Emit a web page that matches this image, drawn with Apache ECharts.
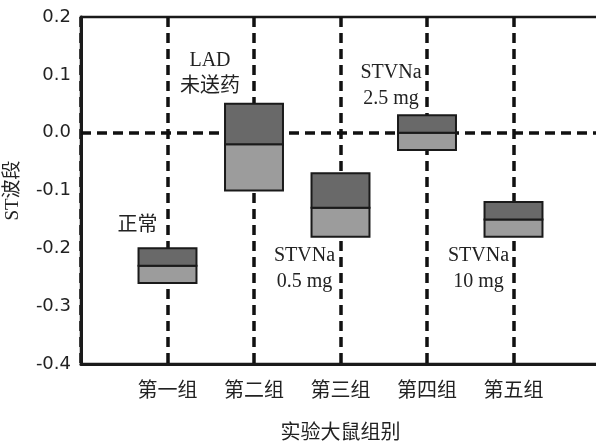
<!DOCTYPE html>
<html>
<head>
<meta charset="utf-8">
<script src="https://cdn.jsdelivr.net/npm/echarts@6/dist/echarts.min.js"></script>
<style>
    html, body { margin: 0; padding: 0; background: #fff; }
    #chart { width: 596px; height: 442px; }
</style>
</head>
<body>
<div id="chart"></div>
<script>
// 组别与数值
const groups = ['第一组', '第二组', '第三组', '第四组', '第五组'];
const lowerVals = [-0.26, -0.10, -0.18, -0.03, -0.18];
const medianVals = [-0.23, -0.02, -0.13, 0.00, -0.15];
const upperVals = [-0.20, 0.05, -0.07, 0.03, -0.12];
const notes = ['正常', 'LAD\n未送药', 'STVNa\n0.5 mg', 'STVNa\n2.5 mg', 'STVNa\n10 mg'];
const yTicks = [-0.4, -0.3, -0.2, -0.1, 0.0, 0.1, 0.2];

// 注释的摆放（像素偏移）
const noteSide = ['top', 'top', 'bottom', 'top', 'bottom'];
const noteDx = [-30, -44, -36, -36, -35];
const noteDy = [-10, -4, 6, -4, 6];

const chart = echarts.init(document.getElementById('chart'));
const boxData = groups.map((g, i) => [i + 1, lowerVals[i], medianVals[i], upperVals[i]]);
const serif = '"Liberation Serif", "Noto Sans CJK SC", serif';

function renderBox(params, api) {
    const i = params.dataIndex;
    const x = api.value(0);
    const pLow = api.coord([x, api.value(1)]);
    const pMid = api.coord([x, api.value(2)]);
    const pHigh = api.coord([x, api.value(3)]);
    const w = api.size([1, 0])[0] * 0.67;
    const left = pMid[0] - w / 2;
    const border = { stroke: '#1a1a1a', lineWidth: 2 };
    const side = noteSide[i];
    return {
        type: 'group',
        children: [
            {
                type: 'rect',
                shape: { x: left, y: pMid[1], width: w, height: pLow[1] - pMid[1] },
                style: Object.assign({ fill: '#9c9c9c' }, border)
            },
            {
                type: 'rect',
                shape: { x: left, y: pHigh[1], width: w, height: pMid[1] - pHigh[1] },
                style: Object.assign({ fill: '#696969' }, border)
            },
            {
                type: 'text',
                x: pMid[0] + noteDx[i],
                y: (side === 'top' ? pHigh[1] : pLow[1]) + noteDy[i],
                style: {
                    text: notes[i],
                    font: '20px ' + serif,
                    fill: '#222',
                    align: 'center',
                    verticalAlign: side === 'top' ? 'bottom' : 'top',
                    lineHeight: 26
                }
            }
        ]
    };
}

const option = {
    animation: false,
    backgroundColor: '#fff',
    grid: {
        left: 81,
        right: -4,
        top: 17,
        bottom: 78,
        outerBoundsMode: 'none',
        containLabel: false,
        show: true,
        borderColor: '#1a1a1a',
        borderWidth: 2.5
    },
    xAxis: {
        type: 'value',
        min: 0,
        max: 6,
        interval: 1,
        name: '实验大鼠组别',
        nameLocation: 'middle',
        nameGap: 60,
        nameTextStyle: { fontSize: 20, color: '#222', fontFamily: serif },
        axisLine: { show: true, onZero: false, lineStyle: { color: '#1a1a1a', width: 3 } },
        axisTick: { show: false },
        axisLabel: {
            margin: 18,
            fontSize: 20,
            color: '#222',
            fontFamily: serif,
            formatter: v => groups[v - 1] || ''
        },
        splitLine: {
            show: true,
            lineStyle: { color: '#111', width: 3.5, type: [10, 6] }
        }
    },
    yAxis: {
        type: 'value',
        min: yTicks[0],
        max: yTicks[yTicks.length - 1],
        interval: 0.1,
        name: 'ST波段',
        nameLocation: 'middle',
        nameGap: 58,
        nameTextStyle: { fontSize: 19, color: '#222', fontFamily: serif },
        axisLine: { show: true, onZero: false, lineStyle: { color: '#1a1a1a', width: 3 } },
        axisTick: { show: false },
        axisLabel: {
            margin: 10,
            fontSize: 18,
            color: '#222',
            fontFamily: '"DejaVu Sans", sans-serif',
            formatter: v => (Math.abs(v) < 1e-9 ? 0 : v).toFixed(1)
        },
        splitLine: { show: false }
    },
    series: [
        {
            type: 'line',
            data: [],
            z: 1,
            markLine: {
                silent: true,
                symbol: 'none',
                label: { show: false },
                lineStyle: { color: '#111', width: 3.5, type: [10, 6] },
                data: [{ yAxis: 0 }]
            }
        },
        {
            type: 'custom',
            z: 5,
            renderItem: renderBox,
            encode: { x: 0, y: [1, 2, 3] },
            data: boxData
        }
    ]
};
chart.setOption(option);
</script>
</body>
</html>
